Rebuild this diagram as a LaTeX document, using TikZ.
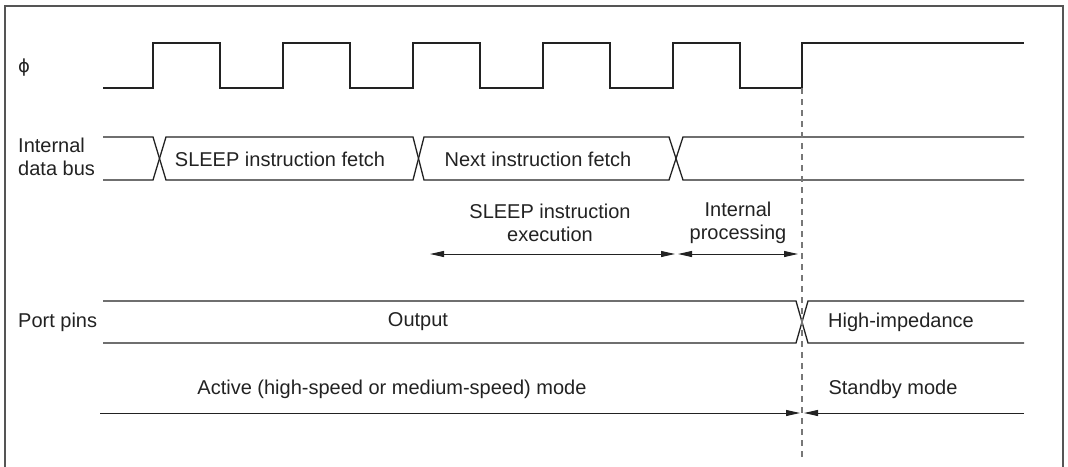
\documentclass[tikz,border=0pt]{standalone}
\usepackage{fontspec}
\setmainfont{Liberation Sans}
\newfontfamily\greekfont{DejaVu Sans}
\usepackage{xcolor}
\usetikzlibrary{arrows.meta,positioning}
\definecolor{ink}{HTML}{222222}
\definecolor{framegray}{HTML}{555555}
\definecolor{dashgray}{HTML}{777777}

\begin{document}
\begin{tikzpicture}[
  x=1pt, y=-1pt,
  font=\fontsize{20}{23}\selectfont,
  wave/.style={draw=ink, line width=1.3pt, line join=miter},
  label/.style={inner sep=0pt, anchor=west, align=left, text=ink},
  tag/.style={inner sep=0pt, align=center, text=ink},
  dim/.style={draw=ink, line width=1pt, -{Triangle[length=14pt, width=6pt]}},
  dimboth/.style={draw=ink, line width=1pt, {Triangle[length=14pt, width=6pt]}-{Triangle[length=14pt, width=6pt]}},
  marker/.style={draw=dashgray, line width=1.3pt, dash pattern=on 6pt off 5pt}
]
  \useasboundingbox (0,0) rectangle (1068,466);
  % frame
  \draw[draw=framegray, line width=1.5pt] (5,470) -- (5,6) -- (1063,6) -- (1063,470);

  % signal names
  \node[label] (phi) at (18,68) {{\greekfont\fontsize{18}{20}\selectfont ϕ}};
  \node[label] (bus) at (18,157) {Internal\\data bus};
  \node[label] (port) at (18,322) {Port pins};

  % clock
  \draw[wave] (103,88) foreach \x in {153,283,413,543,673} {
      -- (\x,88) -- (\x,43) -- (\x+67,43) -- (\x+67,88) }
    -- (802,88) -- (802,43) -- (1024,43);

  % internal data bus
  \draw[wave] (103,137) -- (153,137) -- (166,180) -- (413,180) -- (424,137)
    -- (669,137) -- (683,180) -- (1024,180);
  \draw[wave] (103,180) -- (153,180) -- (166,137) -- (413,137) -- (424,180)
    -- (669,180) -- (683,137) -- (1024,137);
  \node[tag] (fetch) at (280,159) {SLEEP instruction fetch};
  \node[tag] (next) at (538,159) {Next instruction fetch};

  % port pins
  \draw[wave] (103,301) -- (796,301) -- (808,343) -- (1024,343);
  \draw[wave] (103,343) -- (796,343) -- (808,301) -- (1024,301);
  \node[tag] (output) at (418,322) {Output};
  \node[tag] (hiz) at (901,322) {High-impedance};

  % transition into standby
  \coordinate (top) at (802,88);
  \coordinate (bottom) at (802,457);
  \draw[marker] (top) -- (bottom);

  % execution timing
  \coordinate (exA) at (430,254);
  \coordinate (exB) at (675,254);
  \coordinate (exC) at (678,254);
  \coordinate (exD) at (798,254);
  \draw[dimboth] (exA) -- (exB);
  \draw[dimboth] (exC) -- (exD);
  \node[tag] (exec) at (550,223) {SLEEP instruction\\execution};
  \node[tag] (proc) at (738,223) {Internal\\processing};

  % modes
  \coordinate (actA) at (100,413);
  \coordinate (actB) at (800,413);
  \coordinate (stbA) at (1024,413);
  \coordinate (stbB) at (804,413);
  \draw[dim] (actA) -- (actB);
  \draw[dim] (stbA) -- (stbB);
  \node[tag] (active) at (392,389) {Active (high-speed or medium-speed) mode};
  \node[tag] (standby) at (893,389) {Standby mode};
\end{tikzpicture}
\end{document}
